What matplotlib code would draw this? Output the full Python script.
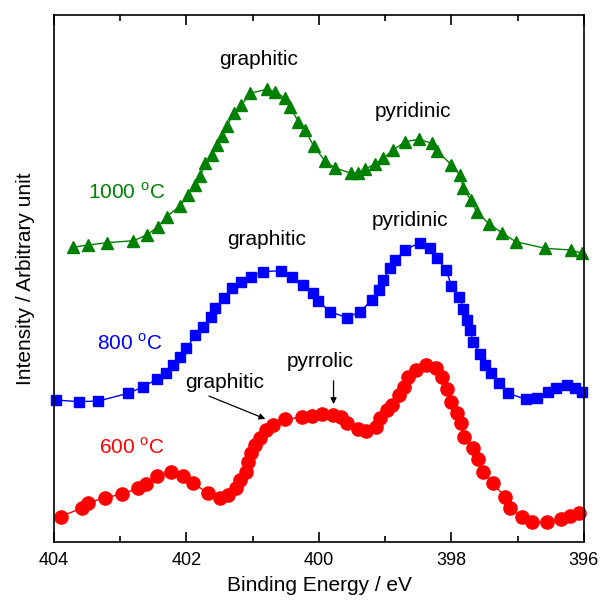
import matplotlib
matplotlib.use('Agg')
import matplotlib.pyplot as plt
from matplotlib.ticker import MultipleLocator

plt.rcParams['font.family'] = ['Liberation Sans', 'DejaVu Sans']
plt.rcParams['mathtext.fontset'] = 'custom'
plt.rcParams['mathtext.rm'] = 'Liberation Sans'

# 600 C (red circles)
e_600 = [403.90, 403.58, 403.49, 403.23, 402.97, 402.73, 402.61, 402.44, 402.24, 402.06,
         401.90, 401.67, 401.49, 401.37, 401.25, 401.19, 401.10, 401.07, 401.02, 400.97,
         400.89, 400.80, 400.69, 400.51, 400.26, 400.11, 399.96, 399.79, 399.66, 399.57,
         399.41, 399.29, 399.14, 399.08, 398.97, 398.89, 398.79, 398.72, 398.65, 398.53,
         398.38, 398.23, 398.15, 398.07, 398.00, 397.92, 397.86, 397.81, 397.68, 397.60,
         397.53, 397.38, 397.19, 397.11, 396.94, 396.79, 396.56, 396.34, 396.21, 396.07]
i_600 = [25.3, 34, 39, 44.3, 48, 53.7, 58, 66, 70.3, 66.3,
         58.7, 48.7, 43.7, 47, 53.7, 62, 70.3, 80.3, 88.7, 97,
         103.7, 112, 117, 122.7, 124.7, 126, 128, 127, 125.3, 118.7,
         112.7, 111.3, 114.7, 123.7, 132, 137, 147, 155.3, 165.3, 172,
         177, 173.7, 165.3, 152.7, 140.3, 128.7, 118.7, 105.3, 93.7, 83,
         70.3, 58.7, 45.3, 33.7, 25.3, 20.3, 20.3, 22.7, 26, 29.3]

# 800 C (blue squares)
e_800 = [403.97, 403.63, 403.33, 402.88, 402.65, 402.45, 402.31, 402.20, 402.10, 402.00,
         401.87, 401.75, 401.63, 401.57, 401.44, 401.32, 401.17, 401.03, 400.85, 400.58,
         400.40, 400.24, 400.09, 400.01, 399.83, 399.58, 399.38, 399.20, 399.10, 399.03,
         398.93, 398.85, 398.70, 398.48, 398.32, 398.22, 398.08, 398.00, 397.88, 397.82,
         397.77, 397.72, 397.67, 397.57, 397.49, 397.41, 397.28, 397.14, 396.88, 396.71,
         396.54, 396.42, 396.26, 396.14, 396.03]
i_800 = [142, 140.3, 141, 148.7, 155.3, 162.7, 169.3, 177, 184.5, 193.5,
         207, 215.3, 224.7, 233.7, 243.7, 253.7, 260.3, 265.3, 270.3, 271.3,
         265.3, 257, 249.3, 241, 230.3, 224.3, 230.3, 242, 252, 262,
         273.7, 282, 292, 299.3, 293.7, 283.7, 272, 256, 245.3, 232.7,
         222, 212, 200, 188, 177, 168.7, 158.7, 148.7, 142.7, 143.7,
         150.3, 153.7, 157, 153.7, 150.3]

# 1000 C (green triangles)
e_1000 = [403.72, 403.48, 403.20, 402.80, 402.60, 402.43, 402.30, 402.10, 401.97, 401.87,
          401.79, 401.72, 401.62, 401.54, 401.47, 401.39, 401.29, 401.17, 401.04, 400.79,
          400.66, 400.51, 400.44, 400.31, 400.21, 400.08, 399.91, 399.76, 399.51, 399.41,
          399.31, 399.15, 399.03, 398.88, 398.70, 398.49, 398.30, 398.22, 398.00, 397.87,
          397.82, 397.71, 397.62, 397.43, 397.24, 397.03, 396.59, 396.20, 396.03]
i_1000 = [294.7, 297, 299.3, 301.3, 307, 315.3, 325.3, 336, 347, 357,
          366, 378.7, 387, 397, 406, 416, 428.7, 437, 448.7, 452.7,
          450.3, 443.7, 435.3, 420.3, 412, 396, 381, 374, 368.7, 369.3,
          372.7, 378, 383.7, 392, 400.3, 402.7, 398.7, 391.3, 377, 367,
          353.7, 342, 330.3, 318, 309.3, 300.3, 293.7, 292, 288.7]

fig = plt.figure(figsize=(6.02, 6.0), dpi=100)
ax = fig.add_axes([0.0897, 0.0967, 0.8803, 0.8783])

red = '#ff0000'
blue = '#0000ff'
green = '#008000'

ax.plot(e_600, i_600, '-o', color=red, lw=1, ms=9.5, mec=red, clip_on=False)
ax.plot(e_800, i_800, '-s', color=blue, lw=1, ms=7.5, mec=blue, clip_on=False)
ax.plot(e_1000, i_1000, '-^', color=green, lw=1, ms=8.5, mec=green, clip_on=False)

ax.set_xlim(404, 396)
ax.set_ylim(0, 527)
ax.xaxis.set_major_locator(MultipleLocator(2))
ax.xaxis.set_minor_locator(MultipleLocator(1))
ax.tick_params(axis='x', which='both', direction='in', top=True, labelsize=13, pad=7)
ax.tick_params(axis='x', which='major', length=7, width=1.2)
ax.tick_params(axis='x', which='minor', length=4.5, width=1.2)
ax.set_yticks([])
for s in ax.spines.values():
    s.set_linewidth(1.2)

ax.set_xlabel('Binding Energy / eV', fontsize=15, labelpad=5)
ax.set_ylabel('Intensity / Arbitrary unit', fontsize=15, labelpad=14)

fs = 15
ax.text(400.91, 482, 'graphitic', fontsize=fs, ha='center', va='center')
ax.text(398.58, 430, 'pyridinic', fontsize=fs, ha='center', va='center')
ax.text(402.91, 350, '1000 $^\\mathregular{o}$C', fontsize=fs, ha='center', va='center', color=green)
ax.text(400.79, 302, 'graphitic', fontsize=fs, ha='center', va='center')
ax.text(398.63, 321, 'pyridinic', fontsize=fs, ha='center', va='center')
ax.text(402.85, 199, '800 $^\\mathregular{o}$C', fontsize=fs, ha='center', va='center', color=blue)
ax.text(401.42, 159, 'graphitic', fontsize=fs, ha='center', va='center')
ax.text(399.98, 180, 'pyrrolic', fontsize=fs, ha='center', va='center')
ax.text(402.83, 95, '600 $^\\mathregular{o}$C', fontsize=fs, ha='center', va='center', color=red)

arrow = dict(arrowstyle='-|>', color='black', lw=0.9, mutation_scale=9)
ax.annotate('', xy=(400.77, 122), xytext=(401.70, 147), arrowprops=arrow)
ax.annotate('', xy=(399.78, 135), xytext=(399.78, 164), arrowprops=arrow)

fig.savefig('out.png', dpi=100)
